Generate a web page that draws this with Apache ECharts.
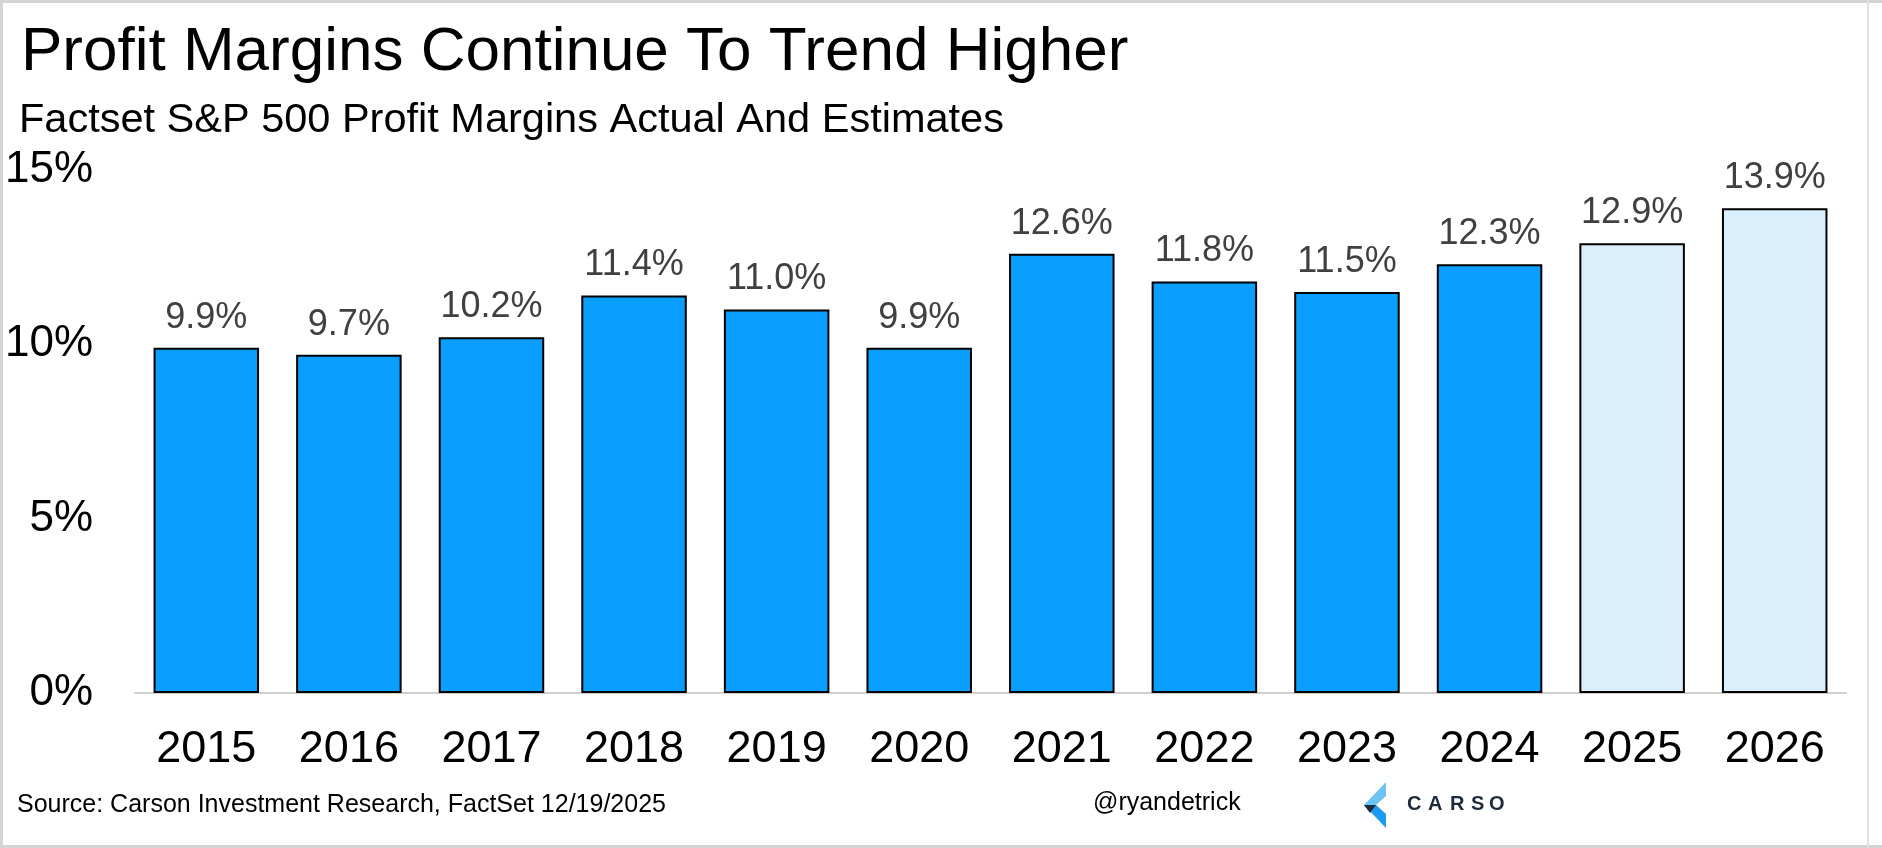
<!DOCTYPE html>
<html>
<head>
<meta charset="utf-8">
<script src="https://cdn.jsdelivr.net/npm/echarts@6/dist/echarts.min.js"></script>
<style>
html,body{margin:0;padding:0;background:#fff;}
#chart{width:1882px;height:848px;}
</style>
</head>
<body>
<div id="chart"></div>
<script>
// ---- data ----
const years = ['2015','2016','2017','2018','2019','2020','2021','2022','2023','2024','2025','2026'];
const margins = [9.9, 9.7, 10.2, 11.4, 11.0, 9.9, 12.6, 11.8, 11.5, 12.3, 12.9, 13.9];
const isEstimate = [false,false,false,false,false,false,false,false,false,false,true,true];
const yTicks = [0, 5, 10, 15];

const titleText = 'Profit Margins Continue To Trend Higher';
const subtitleText = 'Factset S&P 500 Profit Margins Actual And Estimates';
const sourceText = 'Source: Carson Investment Research, FactSet 12/19/2025';
const handleText = '@ryandetrick';

const FONT = '"Liberation Sans", Arial, Helvetica, sans-serif';
const ACTUAL = '#0A9FFE';
const EST = '#DAEFFC';

const chart = echarts.init(document.getElementById('chart'), null, {renderer: 'canvas'});

const barData = margins.map((v, i) => ({
  value: v,
  itemStyle: { color: isEstimate[i] ? EST : ACTUAL }
}));

const logoLetters = ['C','A','R','S','O'];
const logoX = [1407, 1428, 1450, 1471, 1489];

const graphics = [
  // frame
  { type: 'rect', shape: {x: 0, y: 0, width: 1882, height: 3}, style: {fill: '#d4d4d4'}, silent: true },
  { type: 'rect', shape: {x: 0, y: 0, width: 3, height: 848}, style: {fill: '#d4d4d4'}, silent: true },
  { type: 'rect', shape: {x: 0, y: 845, width: 1882, height: 3}, style: {fill: '#d4d4d4'}, silent: true },
  { type: 'rect', shape: {x: 1867, y: 0, width: 2, height: 848}, style: {fill: '#e2e2e2'}, silent: true },
  // titles
  { type: 'text', left: 21, top: 22, style: { text: titleText, font: '62px ' + FONT, fill: '#000' } },
  { type: 'text', left: 19, top: 100, style: { text: subtitleText, font: '41.5px ' + FONT, fill: '#000' } },
  // footer
  { type: 'text', left: 17, top: 793, style: { text: sourceText, font: '25px ' + FONT, fill: '#000' } },
  { type: 'text', left: 1093, top: 791, style: { text: handleText, font: '25px ' + FONT, fill: '#000' } },
  // logo chevron
  { type: 'polygon', shape: { points: [[1386,782],[1386,796],[1376,805],[1364,805]] }, style: { fill: '#6EC3F4' } },
  { type: 'polygon', shape: { points: [[1364,805],[1376,805],[1386,814],[1386,828]] }, style: { fill: '#1A9BEF' } },
  { type: 'polygon', shape: { points: [[1364,805],[1376,805],[1370,813]] }, style: { fill: '#1C2B3E' } },
];
logoLetters.forEach((ch, i) => {
  graphics.push({ type: 'text', left: logoX[i], top: 794, style: { text: ch, font: '600 20px ' + FONT, fill: '#1E2B3C' } });
});

const option = {
  backgroundColor: '#ffffff',
  animation: false,
  grid: { left: 135, right: 1882 - 1846, top: 170, bottom: 848 - 693, containLabel: false },
  xAxis: {
    type: 'category',
    data: years,
    axisLine: { show: true, lineStyle: { color: '#d0d0d0', width: 2 } },
    axisTick: { show: false },
    axisLabel: { color: '#000', fontFamily: FONT, fontSize: 45, margin: 34 }
  },
  yAxis: {
    type: 'value',
    min: yTicks[0],
    max: yTicks[yTicks.length - 1],
    interval: yTicks[1] - yTicks[0],
    splitLine: { show: false },
    axisLine: { show: false },
    axisTick: { show: false },
    axisLabel: { color: '#000', fontFamily: FONT, fontSize: 44, margin: 42, formatter: v => v + '%' }
  },
  series: [{
    type: 'bar',
    data: barData,
    barCategoryGap: '26%',
    itemStyle: { borderColor: '#000', borderWidth: 2 },
    label: {
      show: true,
      position: 'top',
      distance: 12,
      color: '#404040',
      fontFamily: FONT,
      fontSize: 36,
      formatter: p => p.value.toFixed(1) + '%'
    }
  }],
  graphic: graphics
};

chart.setOption(option);
</script>
</body>
</html>
